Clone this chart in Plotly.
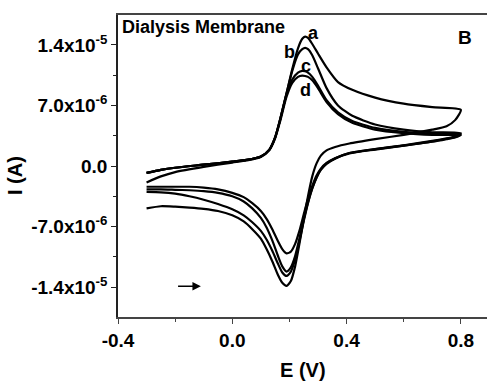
import plotly.graph_objects as go

# Potentials (V)
E_fwd = [-0.3, -0.25, -0.2, -0.1, 0.0, 0.05, 0.1, 0.13, 0.15, 0.167, 0.19, 0.21, 0.23,
         0.245, 0.255, 0.265, 0.28, 0.3, 0.33, 0.37, 0.42, 0.5, 0.6, 0.7, 0.8]
E_rev = [0.8, 0.78, 0.75, 0.7, 0.6, 0.5, 0.41, 0.36, 0.33, 0.31, 0.295, 0.28, 0.265, 0.25,
         0.235, 0.22, 0.205, 0.19, 0.175, 0.16, 0.14, 0.12, 0.1, 0.07, 0.04, 0.0, -0.05,
         -0.1, -0.15, -0.2, -0.25, -0.3]

# Currents (x1e-6 A)
a_fwd = [-0.8, -0.45, -0.2, 0.15, 0.5, 0.7, 1.1, 1.9, 3.3, 5.3, 8.4, 11.2, 13.6, 14.7, 14.95,
         14.8, 14.1, 13.0, 11.4, 9.7, 8.8, 7.9, 7.2, 6.8, 6.5]
b_fwd = [-0.8, -0.45, -0.2, 0.15, 0.5, 0.7, 1.1, 1.9, 3.3, 5.3, 8.4, 11.0, 12.9, 13.5, 13.65,
         13.5, 12.8, 11.3, 9.0, 7.0, 5.8, 4.8, 4.2, 3.9, 3.8]
c_fwd = [-0.8, -0.45, -0.2, 0.15, 0.5, 0.7, 1.1, 1.9, 3.3, 5.3, 8.3, 10.0, 10.8, 11.0, 10.95,
         10.8, 10.3, 9.3, 7.6, 6.2, 5.2, 4.4, 3.95, 3.75, 3.7]
d_fwd = [-1.9, -1.2, -0.7, -0.1, 0.4, 0.65, 1.05, 1.85, 3.2, 5.1, 8.0, 9.6, 10.3, 10.45, 10.4,
         10.3, 9.9, 9.0, 7.4, 6.0, 5.0, 4.2, 3.8, 3.6, 3.55]

a_rev = [6.5, 5.3, 4.6, 4.2, 3.6, 3.1, 2.6, 2.2, 1.8, 1.2, 0.3, -1.2, -3.5, -6.2, -9.0, -11.6,
         -13.3, -13.85, -13.5, -12.6, -11.0, -9.6, -8.4, -7.3, -6.4, -5.7, -5.2, -4.95, -4.8,
         -4.7, -4.65, -4.9]
b_rev = [3.8, 3.4, 3.2, 2.9, 2.4, 1.95, 1.5, 0.9, 0.3, -0.4, -1.3, -2.6, -4.3, -6.4, -8.7, -10.8,
         -12.2, -12.7, -12.3, -11.3, -9.8, -8.5, -7.5, -6.5, -5.7, -5.0, -4.4, -3.9, -3.5,
         -3.2, -3.05, -3.0]
c_rev = [3.7, 3.35, 3.15, 2.85, 2.35, 1.9, 1.45, 0.85, 0.25, -0.45, -1.35, -2.6, -4.2, -6.2,
         -8.4, -10.4, -11.7, -12.2, -11.6, -10.4, -8.6, -7.1, -6.0, -4.9, -4.1, -3.5, -3.1,
         -2.9, -2.8, -2.75, -2.7, -2.7]
d_rev = [3.55, 3.3, 3.1, 2.8, 2.35, 1.95, 1.5, 0.9, 0.35, -0.3, -1.1, -2.3, -3.8, -5.6, -7.5,
         -9.0, -9.9, -10.1, -9.6, -8.7, -7.3, -6.1, -5.2, -4.3, -3.6, -3.1, -2.7, -2.5, -2.4,
         -2.4, -2.4, -2.4]

curves = {"a": (a_fwd, a_rev), "b": (b_fwd, b_rev), "c": (c_fwd, c_rev), "d": (d_fwd, d_rev)}

y_tickvals = [-1.4e-5, -7.0e-6, 0.0, 7.0e-6, 1.4e-5]
y_ticktext = ["-1.4x10<sup>-5</sup>", "-7.0x10<sup>-6</sup>", "0.0",
              "7.0x10<sup>-6</sup>", "1.4x10<sup>-5</sup>"]
x_tickvals = [-0.4, 0.0, 0.4, 0.8]
x_ticktext = ["-0.4", "0.0", "0.4", "0.8"]

FONT = "Liberation Sans, Arial, sans-serif"

fig = go.Figure()
for name, (fw, rv) in curves.items():
    xs = E_fwd + E_rev[1:]
    ys = [v * 1e-6 for v in fw + rv[1:]]
    fig.add_trace(go.Scatter(x=xs, y=ys, mode="lines", name=name,
                             line=dict(color="black", width=2.2, shape="spline", smoothing=0.6),
                             showlegend=False, hoverinfo="skip"))

fig.update_layout(
    width=487, height=383,
    margin=dict(l=118, r=0, t=15, b=66),
    paper_bgcolor="white", plot_bgcolor="white",
    font=dict(family=FONT, size=19, color="black"),
)
fig.update_xaxes(
    range=[-0.4, 0.8916], tickvals=x_tickvals, ticktext=x_ticktext,
    showgrid=False, zeroline=False, showline=True, linecolor="#444", linewidth=1.5,
    mirror=True, ticks="outside", ticklen=5, tickwidth=1.2, tickcolor="#444",
    tickfont=dict(family=FONT, size=19, color="black", weight="bold"),
    minor=dict(tickvals=[-0.2, 0.2, 0.6], ticks="outside", ticklen=3, tickwidth=1.2, tickcolor="#444"),
)
fig.update_yaxes(
    range=[-1.745e-5, 1.745e-5], tickvals=y_tickvals, ticktext=y_ticktext,
    showgrid=False, zeroline=False, showline=True, linecolor="#222", linewidth=1.5,
    ticks="outside", ticklen=5, tickwidth=1.2, tickcolor="#222",
    tickfont=dict(family=FONT, size=19, color="black", weight="bold"),
    minor=dict(tickvals=[-1.05e-5, -3.5e-6, 3.5e-6, 1.05e-5], ticks="outside",
               ticklen=3, tickwidth=1.2, tickcolor="#222"),
)

bold = dict(family=FONT, size=18, color="black", weight="bold")
# titles
fig.add_annotation(text="E (V)", xref="paper", yref="paper", x=0.5, y=0, yshift=-53,
                   xanchor="center", yanchor="middle", showarrow=False,
                   font=dict(family=FONT, size=20, color="black", weight="bold"))
fig.add_annotation(text="I (A)", xref="paper", yref="paper", x=0, xshift=-103, y=0.5, yshift=-10,
                   xanchor="center", yanchor="middle", textangle=-90, showarrow=False,
                   font=dict(family=FONT, size=20, color="black", weight="bold"))
fig.add_annotation(text="Dialysis Membrane", xref="paper", yref="paper", x=0.005, y=0.96,
                   xanchor="left", yanchor="middle", showarrow=False, font=bold)
fig.add_annotation(text="B", xref="paper", yref="paper", x=0.94, y=0.927,
                   xanchor="center", yanchor="middle", showarrow=False,
                   font=dict(family=FONT, size=19, color="black", weight="bold"))
for lbl, ex, iy in [("a", 0.285, 1.535e-5), ("b", 0.20, 1.32e-5),
                    ("c", 0.257, 1.15e-5), ("d", 0.258, 8.8e-6)]:
    fig.add_annotation(text=lbl, x=ex, y=iy, xanchor="center", yanchor="middle",
                       showarrow=False, font=bold)
# scan direction arrow
fig.add_annotation(x=-0.11, y=-1.39e-5, ax=-0.195, ay=-1.39e-5, axref="x", ayref="y",
                   text="", showarrow=True, arrowhead=2, arrowsize=1.2, arrowwidth=1.4,
                   arrowcolor="black")

fig.write_html("out.html")
